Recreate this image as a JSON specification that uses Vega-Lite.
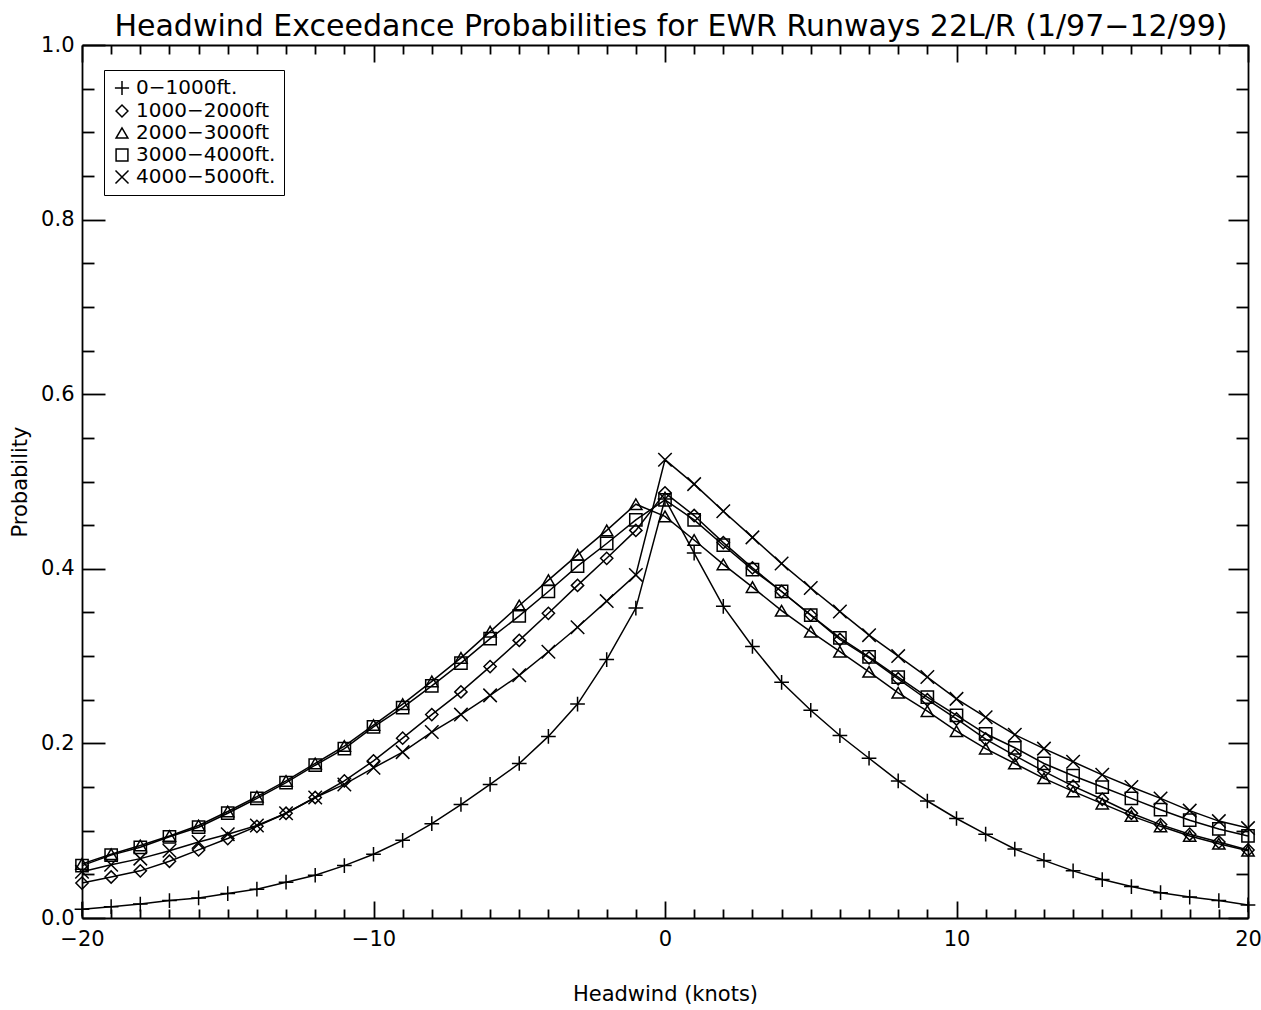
{
  "$schema": "https://vega.github.io/schema/vega-lite/v6.json",
  "width": 1166,
  "height": 873,
  "autosize": {"type": "none"},
  "padding": {"left": 82, "top": 45, "right": 13, "bottom": 92},
  "background": "white",
  "config": {
    "view": {"stroke": null},
    "font": "DejaVu Sans",
    "axis": {"labelFont": "DejaVu Sans", "titleFont": "DejaVu Sans", "labelColor": "black", "titleColor": "black", "domainColor": "black", "tickColor": "black", "grid": false, "titleFontWeight": "normal", "domainWidth": 1.8, "tickWidth": 1.8}
  },
  "title": {"text": "Headwind Exceedance Probabilities for EWR Runways 22L/R (1/97−12/99)", "font": "DejaVu Sans", "fontSize": 30, "fontWeight": "normal", "color": "black", "anchor": "middle", "offset": -8, "dx": 6},
  "datasets": {
    "d": [
      {"s":"0−1000ft.","x":-20,"p":0.010},{"s":"0−1000ft.","x":-19,"p":0.013},{"s":"0−1000ft.","x":-18,"p":0.016},{"s":"0−1000ft.","x":-17,"p":0.020},{"s":"0−1000ft.","x":-16,"p":0.023},{"s":"0−1000ft.","x":-15,"p":0.028},{"s":"0−1000ft.","x":-14,"p":0.033},{"s":"0−1000ft.","x":-13,"p":0.041},{"s":"0−1000ft.","x":-12,"p":0.049},{"s":"0−1000ft.","x":-11,"p":0.060},{"s":"0−1000ft.","x":-10,"p":0.073},{"s":"0−1000ft.","x":-9,"p":0.089},{"s":"0−1000ft.","x":-8,"p":0.108},{"s":"0−1000ft.","x":-7,"p":0.130},{"s":"0−1000ft.","x":-6,"p":0.153},{"s":"0−1000ft.","x":-5,"p":0.177},{"s":"0−1000ft.","x":-4,"p":0.208},{"s":"0−1000ft.","x":-3,"p":0.245},{"s":"0−1000ft.","x":-2,"p":0.296},{"s":"0−1000ft.","x":-1,"p":0.355},{"s":"0−1000ft.","x":0,"p":0.480},{"s":"0−1000ft.","x":1,"p":0.418},{"s":"0−1000ft.","x":2,"p":0.357},{"s":"0−1000ft.","x":3,"p":0.311},{"s":"0−1000ft.","x":4,"p":0.270},{"s":"0−1000ft.","x":5,"p":0.238},{"s":"0−1000ft.","x":6,"p":0.209},{"s":"0−1000ft.","x":7,"p":0.183},{"s":"0−1000ft.","x":8,"p":0.157},{"s":"0−1000ft.","x":9,"p":0.134},{"s":"0−1000ft.","x":10,"p":0.114},{"s":"0−1000ft.","x":11,"p":0.096},{"s":"0−1000ft.","x":12,"p":0.079},{"s":"0−1000ft.","x":13,"p":0.066},{"s":"0−1000ft.","x":14,"p":0.054},{"s":"0−1000ft.","x":15,"p":0.044},{"s":"0−1000ft.","x":16,"p":0.036},{"s":"0−1000ft.","x":17,"p":0.029},{"s":"0−1000ft.","x":18,"p":0.024},{"s":"0−1000ft.","x":19,"p":0.020},{"s":"0−1000ft.","x":20,"p":0.015},
      {"s":"1000−2000ft","x":-20,"p":0.040},{"s":"1000−2000ft","x":-19,"p":0.047},{"s":"1000−2000ft","x":-18,"p":0.054},{"s":"1000−2000ft","x":-17,"p":0.065},{"s":"1000−2000ft","x":-16,"p":0.078},{"s":"1000−2000ft","x":-15,"p":0.091},{"s":"1000−2000ft","x":-14,"p":0.105},{"s":"1000−2000ft","x":-13,"p":0.120},{"s":"1000−2000ft","x":-12,"p":0.138},{"s":"1000−2000ft","x":-11,"p":0.157},{"s":"1000−2000ft","x":-10,"p":0.180},{"s":"1000−2000ft","x":-9,"p":0.206},{"s":"1000−2000ft","x":-8,"p":0.233},{"s":"1000−2000ft","x":-7,"p":0.259},{"s":"1000−2000ft","x":-6,"p":0.288},{"s":"1000−2000ft","x":-5,"p":0.318},{"s":"1000−2000ft","x":-4,"p":0.349},{"s":"1000−2000ft","x":-3,"p":0.381},{"s":"1000−2000ft","x":-2,"p":0.412},{"s":"1000−2000ft","x":-1,"p":0.444},{"s":"1000−2000ft","x":0,"p":0.487},{"s":"1000−2000ft","x":1,"p":0.461},{"s":"1000−2000ft","x":2,"p":0.430},{"s":"1000−2000ft","x":3,"p":0.401},{"s":"1000−2000ft","x":4,"p":0.374},{"s":"1000−2000ft","x":5,"p":0.347},{"s":"1000−2000ft","x":6,"p":0.319},{"s":"1000−2000ft","x":7,"p":0.298},{"s":"1000−2000ft","x":8,"p":0.274},{"s":"1000−2000ft","x":9,"p":0.250},{"s":"1000−2000ft","x":10,"p":0.228},{"s":"1000−2000ft","x":11,"p":0.205},{"s":"1000−2000ft","x":12,"p":0.186},{"s":"1000−2000ft","x":13,"p":0.168},{"s":"1000−2000ft","x":14,"p":0.151},{"s":"1000−2000ft","x":15,"p":0.136},{"s":"1000−2000ft","x":16,"p":0.120},{"s":"1000−2000ft","x":17,"p":0.107},{"s":"1000−2000ft","x":18,"p":0.096},{"s":"1000−2000ft","x":19,"p":0.087},{"s":"1000−2000ft","x":20,"p":0.078},
      {"s":"2000−3000ft","x":-20,"p":0.062},{"s":"2000−3000ft","x":-19,"p":0.073},{"s":"2000−3000ft","x":-18,"p":0.083},{"s":"2000−3000ft","x":-17,"p":0.094},{"s":"2000−3000ft","x":-16,"p":0.106},{"s":"2000−3000ft","x":-15,"p":0.122},{"s":"2000−3000ft","x":-14,"p":0.139},{"s":"2000−3000ft","x":-13,"p":0.157},{"s":"2000−3000ft","x":-12,"p":0.177},{"s":"2000−3000ft","x":-11,"p":0.197},{"s":"2000−3000ft","x":-10,"p":0.221},{"s":"2000−3000ft","x":-9,"p":0.245},{"s":"2000−3000ft","x":-8,"p":0.271},{"s":"2000−3000ft","x":-7,"p":0.298},{"s":"2000−3000ft","x":-6,"p":0.328},{"s":"2000−3000ft","x":-5,"p":0.358},{"s":"2000−3000ft","x":-4,"p":0.387},{"s":"2000−3000ft","x":-3,"p":0.416},{"s":"2000−3000ft","x":-2,"p":0.444},{"s":"2000−3000ft","x":-1,"p":0.474},{"s":"2000−3000ft","x":0,"p":0.460},{"s":"2000−3000ft","x":1,"p":0.433},{"s":"2000−3000ft","x":2,"p":0.405},{"s":"2000−3000ft","x":3,"p":0.379},{"s":"2000−3000ft","x":4,"p":0.352},{"s":"2000−3000ft","x":5,"p":0.328},{"s":"2000−3000ft","x":6,"p":0.305},{"s":"2000−3000ft","x":7,"p":0.282},{"s":"2000−3000ft","x":8,"p":0.258},{"s":"2000−3000ft","x":9,"p":0.237},{"s":"2000−3000ft","x":10,"p":0.214},{"s":"2000−3000ft","x":11,"p":0.194},{"s":"2000−3000ft","x":12,"p":0.177},{"s":"2000−3000ft","x":13,"p":0.160},{"s":"2000−3000ft","x":14,"p":0.145},{"s":"2000−3000ft","x":15,"p":0.131},{"s":"2000−3000ft","x":16,"p":0.117},{"s":"2000−3000ft","x":17,"p":0.105},{"s":"2000−3000ft","x":18,"p":0.094},{"s":"2000−3000ft","x":19,"p":0.085},{"s":"2000−3000ft","x":20,"p":0.077},
      {"s":"3000−4000ft.","x":-20,"p":0.060},{"s":"3000−4000ft.","x":-19,"p":0.072},{"s":"3000−4000ft.","x":-18,"p":0.081},{"s":"3000−4000ft.","x":-17,"p":0.093},{"s":"3000−4000ft.","x":-16,"p":0.104},{"s":"3000−4000ft.","x":-15,"p":0.120},{"s":"3000−4000ft.","x":-14,"p":0.137},{"s":"3000−4000ft.","x":-13,"p":0.155},{"s":"3000−4000ft.","x":-12,"p":0.175},{"s":"3000−4000ft.","x":-11,"p":0.194},{"s":"3000−4000ft.","x":-10,"p":0.219},{"s":"3000−4000ft.","x":-9,"p":0.241},{"s":"3000−4000ft.","x":-8,"p":0.266},{"s":"3000−4000ft.","x":-7,"p":0.292},{"s":"3000−4000ft.","x":-6,"p":0.320},{"s":"3000−4000ft.","x":-5,"p":0.346},{"s":"3000−4000ft.","x":-4,"p":0.374},{"s":"3000−4000ft.","x":-3,"p":0.403},{"s":"3000−4000ft.","x":-2,"p":0.429},{"s":"3000−4000ft.","x":-1,"p":0.456},{"s":"3000−4000ft.","x":0,"p":0.479},{"s":"3000−4000ft.","x":1,"p":0.456},{"s":"3000−4000ft.","x":2,"p":0.427},{"s":"3000−4000ft.","x":3,"p":0.399},{"s":"3000−4000ft.","x":4,"p":0.374},{"s":"3000−4000ft.","x":5,"p":0.347},{"s":"3000−4000ft.","x":6,"p":0.321},{"s":"3000−4000ft.","x":7,"p":0.299},{"s":"3000−4000ft.","x":8,"p":0.276},{"s":"3000−4000ft.","x":9,"p":0.253},{"s":"3000−4000ft.","x":10,"p":0.232},{"s":"3000−4000ft.","x":11,"p":0.211},{"s":"3000−4000ft.","x":12,"p":0.195},{"s":"3000−4000ft.","x":13,"p":0.177},{"s":"3000−4000ft.","x":14,"p":0.163},{"s":"3000−4000ft.","x":15,"p":0.150},{"s":"3000−4000ft.","x":16,"p":0.137},{"s":"3000−4000ft.","x":17,"p":0.124},{"s":"3000−4000ft.","x":18,"p":0.112},{"s":"3000−4000ft.","x":19,"p":0.102},{"s":"3000−4000ft.","x":20,"p":0.094},
      {"s":"4000−5000ft.","x":-20,"p":0.053},{"s":"4000−5000ft.","x":-19,"p":0.061},{"s":"4000−5000ft.","x":-18,"p":0.068},{"s":"4000−5000ft.","x":-17,"p":0.077},{"s":"4000−5000ft.","x":-16,"p":0.087},{"s":"4000−5000ft.","x":-15,"p":0.096},{"s":"4000−5000ft.","x":-14,"p":0.106},{"s":"4000−5000ft.","x":-13,"p":0.120},{"s":"4000−5000ft.","x":-12,"p":0.138},{"s":"4000−5000ft.","x":-11,"p":0.153},{"s":"4000−5000ft.","x":-10,"p":0.172},{"s":"4000−5000ft.","x":-9,"p":0.190},{"s":"4000−5000ft.","x":-8,"p":0.213},{"s":"4000−5000ft.","x":-7,"p":0.233},{"s":"4000−5000ft.","x":-6,"p":0.255},{"s":"4000−5000ft.","x":-5,"p":0.278},{"s":"4000−5000ft.","x":-4,"p":0.305},{"s":"4000−5000ft.","x":-3,"p":0.333},{"s":"4000−5000ft.","x":-2,"p":0.363},{"s":"4000−5000ft.","x":-1,"p":0.393},{"s":"4000−5000ft.","x":0,"p":0.525},{"s":"4000−5000ft.","x":1,"p":0.497},{"s":"4000−5000ft.","x":2,"p":0.466},{"s":"4000−5000ft.","x":3,"p":0.436},{"s":"4000−5000ft.","x":4,"p":0.406},{"s":"4000−5000ft.","x":5,"p":0.378},{"s":"4000−5000ft.","x":6,"p":0.351},{"s":"4000−5000ft.","x":7,"p":0.324},{"s":"4000−5000ft.","x":8,"p":0.300},{"s":"4000−5000ft.","x":9,"p":0.276},{"s":"4000−5000ft.","x":10,"p":0.251},{"s":"4000−5000ft.","x":11,"p":0.230},{"s":"4000−5000ft.","x":12,"p":0.210},{"s":"4000−5000ft.","x":13,"p":0.194},{"s":"4000−5000ft.","x":14,"p":0.179},{"s":"4000−5000ft.","x":15,"p":0.164},{"s":"4000−5000ft.","x":16,"p":0.150},{"s":"4000−5000ft.","x":17,"p":0.137},{"s":"4000−5000ft.","x":18,"p":0.123},{"s":"4000−5000ft.","x":19,"p":0.111},{"s":"4000−5000ft.","x":20,"p":0.103}
    ]
  },
  "data": {"name": "d"},
  "layer": [
    {
      "mark": {"type": "line", "color": "black", "strokeWidth": 1.5},
      "encoding": {
        "x": {"field": "x", "type": "quantitative", "scale": {"domain": [-20, 20], "nice": false, "zero": false},
          "axis": {"orient": "bottom", "title": "Headwind (knots)", "titleFontSize": 21, "titlePadding": 26,
            "values": [-20,-19,-18,-17,-16,-15,-14,-13,-12,-11,-10,-9,-8,-7,-6,-5,-4,-3,-2,-1,0,1,2,3,4,5,6,7,8,9,10,11,12,13,14,15,16,17,18,19,20],
            "labelExpr": "datum.value % 10 === 0 ? datum.label : ''", "labelFontSize": 21, "labelPadding": 27,
            "tickSize": {"condition": {"test": "datum.value % 10 === 0", "value": -17}, "value": -9},
            "labelFlush": false, "labelOverlap": false}},
        "y": {"field": "p", "type": "quantitative", "scale": {"domain": [0, 1], "nice": false, "zero": false},
          "axis": {"orient": "left", "title": "Probability", "titleFontSize": 21, "titlePadding": 10,
            "values": [0,0.05,0.1,0.15,0.2,0.25,0.3,0.35,0.4,0.45,0.5,0.55,0.6,0.65,0.7,0.75,0.8,0.85,0.9,0.95,1],
            "labelExpr": "round(datum.value*100) % 20 === 0 ? format(datum.value, '.1f') : ''", "labelFontSize": 21, "labelPadding": 31,
            "tickSize": {"condition": {"test": "round(datum.value*100) % 20 === 0", "value": -23}, "value": -12},
            "labelFlush": false, "labelOverlap": false}},
        "detail": {"field": "s", "type": "nominal"}
      }
    },
    {
      "mark": {"type": "point", "filled": false, "color": "black", "strokeWidth": 1.5, "size": 150, "opacity": 1},
      "encoding": {
        "x": {"field": "x", "type": "quantitative",
          "axis": {"orient": "top", "title": null, "labels": false,
            "values": [-20,-19,-18,-17,-16,-15,-14,-13,-12,-11,-10,-9,-8,-7,-6,-5,-4,-3,-2,-1,0,1,2,3,4,5,6,7,8,9,10,11,12,13,14,15,16,17,18,19,20],
            "tickSize": {"condition": {"test": "datum.value % 10 === 0", "value": -17}, "value": -9}}},
        "y": {"field": "p", "type": "quantitative",
          "axis": {"orient": "right", "title": null, "labels": false,
            "values": [0,0.05,0.1,0.15,0.2,0.25,0.3,0.35,0.4,0.45,0.5,0.55,0.6,0.65,0.7,0.75,0.8,0.85,0.9,0.95,1],
            "tickSize": {"condition": {"test": "round(datum.value*100) % 20 === 0", "value": -20}, "value": -12}}},
        "shape": {"field": "s", "type": "nominal",
          "scale": {"domain": ["0−1000ft.", "1000−2000ft", "2000−3000ft", "3000−4000ft.", "4000−5000ft."],
            "range": ["M-1.2,0L1.2,0M0,-1.2L0,1.2", "diamond", "triangle-up", "square", "M-1.1,-1.1L1.1,1.1M-1.1,1.1L1.1,-1.1"]},
          "legend": {"title": null, "orient": "none", "legendX": 22, "legendY": 25, "strokeColor": "black", "fillColor": "white",
            "padding": 8, "labelFontSize": 20, "labelFont": "DejaVu Sans", "labelColor": "black", "symbolSize": 140,
            "symbolStrokeColor": "black", "symbolStrokeWidth": 1.5, "symbolFillColor": "transparent", "rowPadding": 2, "labelOffset": 4, "cornerRadius": 0}}
      }
    }
  ],
  "resolve": {"axis": {"x": "independent", "y": "independent"}}
}
